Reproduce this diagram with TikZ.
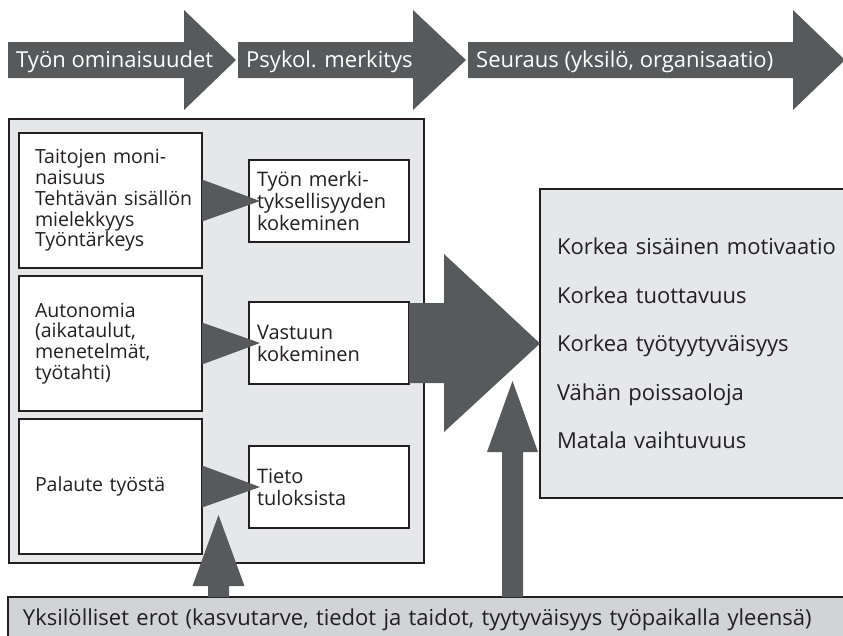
\documentclass[tikz,border=0pt]{standalone}
\usepackage{fontspec}
\setmainfont{Open Sans}
\usetikzlibrary{calc}
\definecolor{arrowc}{HTML}{58595B}
\definecolor{panelc}{HTML}{E6E7E8}
\definecolor{barc}{HTML}{D1D3D4}
\definecolor{linec}{HTML}{231F20}
\hyphenpenalty=10000
\exhyphenpenalty=10000
\hbadness=10000
\hfuzz=50pt
\begin{document}
\begin{tikzpicture}[x=1pt,y=-1pt,
  darr/.style={fill=arrowc, draw=none},
  toptxt/.style={font=\fontsize{22}{22}\selectfont, text=white, inner sep=0pt, anchor=base west},
  panelbox/.style={draw=linec, fill=panelc, line width=1.2pt},
  wbox/.style={draw=linec, fill=white, line width=1.2pt, inner ysep=0pt, outer sep=0pt, align=left, text=linec, anchor=north west},
  lbox/.style={wbox, minimum width=183pt, minimum height=135pt, text width=151pt, inner xsep=16pt, font=\fontsize{19.5}{20.8}\selectfont},
  sbox/.style={wbox, minimum width=160pt, minimum height=82pt, text width=144pt, inner xsep=8pt, font=\fontsize{20}{22}\selectfont},
  resbox/.style={draw=linec, fill=panelc, line width=1.2pt, outer sep=0pt, anchor=north west, minimum width=330pt, minimum height=309pt, inner xsep=17pt, text width=296pt, align=left, text=linec, font=\fontsize{22}{48.5}\selectfont},
  barbox/.style={draw=linec, fill=barc, line width=1.2pt, outer sep=0pt, anchor=north west, minimum width=860pt, minimum height=46pt, inner xsep=15pt, text width=830pt, align=left, text=linec, font=\fontsize{22}{23}\selectfont}
]
\useasboundingbox (0,0) rectangle (843,635);
\clip (0,0) rectangle (843,635);

% top arrows
\fill[darr] (8,42) -- (184,42) -- (184,10) -- (236,60) -- (184,110) -- (184,78) -- (8,78) -- cycle;
\fill[darr] (238,42) -- (413,42) -- (413,10) -- (466,60) -- (413,110) -- (413,78) -- (238,78) -- cycle;
\fill[darr] (468,42) -- (793,42) -- (793,10) -- (845,60) -- (793,110) -- (793,78) -- (468,78) -- cycle;
\node[toptxt] (t1) at (16,67.5) {Työn ominaisuudet};
\node[toptxt] (t2) at (246,67.5) {Psykol. merkitys};
\node[toptxt] (t3) at (476,67.5) {Seuraus (yksilö, organisaatio)};

% left panel
\node[panelbox, anchor=north west, minimum width=415pt, minimum height=444pt, inner sep=0pt, outer sep=0pt] (panel) at (9,119) {};

\node[lbox] (b1) at (19,133) {Taitojen moni-\\naisuus\\\mbox{Tehtävän sisällön}\\mielekkyys\\Työntärkeys};
\node[lbox] (b2) at (19,276) {Autonomia\\(aikataulut,\\menetelmät,\\työtahti)\\[10pt]};
\node[lbox] (b3) at (19,419) {Palaute työstä};

\node[sbox] (ba) at (249,160) {Työn merki-\\tyksellisyyden\\kokeminen};
\node[sbox] (bb) at (249,302) {Vastuun\\kokeminen};
\node[sbox] (bc) at (249,446) {Tieto\\tuloksista};

\foreach \s/\t in {b1/ba, b2/bb, b3/bc}{
  \fill[darr] ($(\s.east)+(0,-21)$) -- ($(\t.west)+(11,0)$) -- ($(\s.east)+(0,21)$) -- cycle;
}

% result box
\node[resbox] (res) at (540,189) {Korkea sisäinen motivaatio\\Korkea tuottavuus\\Korkea työtyytyväisyys\\Vähän poissaoloja\\Matala vaihtuvuus};

% big arrow
\fill[darr] ($(bb.east)+(0,-40)$) -- ($(bb.east)+(35,-40)$) -- ($(bb.east)+(35,-89)$) -- (res.west)
  -- ($(bb.east)+(35,89)$) -- ($(bb.east)+(35,40)$) -- ($(bb.east)+(0,40)$) -- cycle;

% bottom bar
\node[barbox] (bar) at (8,597) {Yksilölliset erot (kasvutarve, tiedot ja taidot, tyytyväisyys työpaikalla yleensä)};

% up arrows
\coordinate (lu) at ($(bar.north west)+(210.5,0)$);
\coordinate (ru) at ($(bar.north west)+(504.5,0)$);
\fill[darr] ($(lu)+(-10.5,0)$) -- ($(lu)+(-10.5,-11)$) -- ($(lu)+(-26,-11)$) -- ($(lu)+(0,-82)$)
  -- ($(lu)+(26,-11)$) -- ($(lu)+(10.5,-11)$) -- ($(lu)+(10.5,0)$) -- cycle;
\fill[darr] ($(ru)+(-10.5,0)$) -- ($(ru)+(-10.5,-145)$) -- ($(ru)+(-25.5,-145)$) -- ($(ru)+(0,-216)$)
  -- ($(ru)+(25.5,-145)$) -- ($(ru)+(10.5,-145)$) -- ($(ru)+(10.5,0)$) -- cycle;
\end{tikzpicture}
\end{document}
